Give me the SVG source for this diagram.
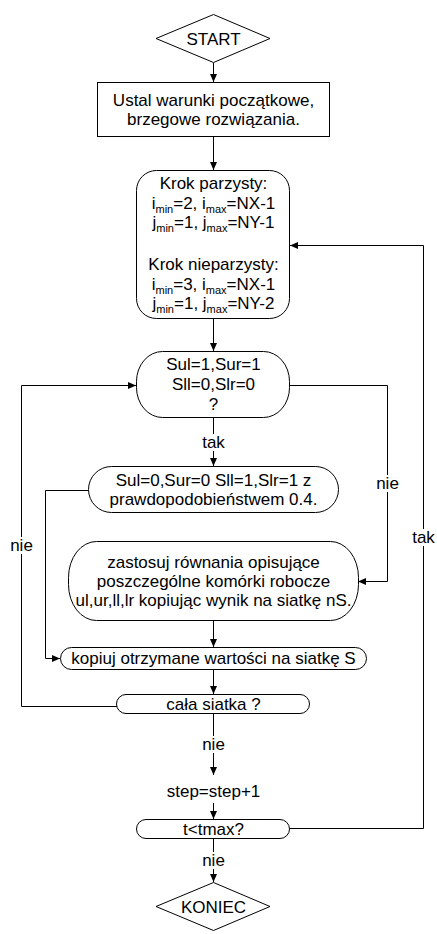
<svg xmlns="http://www.w3.org/2000/svg" width="437" height="934" viewBox="0 0 437 934">
<defs>
<style>
.shape{fill:#fff;stroke:#000;stroke-width:1}
.t{font-family:"Liberation Sans",Arial,sans-serif;font-size:17px;fill:#000;text-anchor:middle}
.sub{font-size:11px}
.line{fill:none;stroke:#000;stroke-width:1}
.lbg{fill:#fff;stroke:none}
</style>
<marker id="arr" markerWidth="9" markerHeight="8" refX="8" refY="3.5" orient="auto" markerUnits="userSpaceOnUse">
<path d="M0,0 L8,3.5 L0,7 Z" fill="#000"/>
</marker>
</defs>
<rect width="437" height="934" fill="#fff"/>

<g id="connectors">
<path class="line" d="M213.5,63 V82" marker-end="url(#arr)"/>
<path class="line" d="M213.5,137 V170" marker-end="url(#arr)"/>
<path class="line" d="M213.5,319 V351" marker-end="url(#arr)"/>
<path class="line" d="M213.5,418 V466" marker-end="url(#arr)"/>
<path class="line" d="M289,385.5 H387.5 V581.5 H358" marker-end="url(#arr)"/>
<path class="line" d="M88,490.5 H45.5 V658.5 H60" marker-end="url(#arr)"/>
<path class="line" d="M213.5,620 V647" marker-end="url(#arr)"/>
<path class="line" d="M213.5,670 V694" marker-end="url(#arr)"/>
<path class="line" d="M117,706.5 H21.5 V385.5 H136" marker-end="url(#arr)"/>
<path class="line" d="M213.5,713 V775" marker-end="url(#arr)"/>
<path class="line" d="M213.5,803 V819" marker-end="url(#arr)"/>
<path class="line" d="M213.5,838 V882" marker-end="url(#arr)"/>
<path class="line" d="M290,828.5 H423.5 V245.5 H290" marker-end="url(#arr)"/>
<rect class="lbg" x="199" y="434" width="29" height="17"/>
<text class="t" x="213.5" y="448">tak</text>
<rect class="lbg" x="374" y="475" width="27" height="17"/>
<text class="t" x="387.5" y="489">nie</text>
<rect class="lbg" x="8" y="537" width="27" height="17"/>
<text class="t" x="21.5" y="551">nie</text>
<rect class="lbg" x="409" y="529" width="29" height="17"/>
<text class="t" x="423.5" y="543">tak</text>
<rect class="lbg" x="200" y="736" width="27" height="17"/>
<text class="t" x="213.5" y="750">nie</text>
<rect class="lbg" x="200" y="852" width="27" height="17"/>
<text class="t" x="213.5" y="866">nie</text>
</g>

<g id="start">
<polygon class="shape" points="213.5,14.5 270,38.5 213.5,62.5 156,38.5"/>
<text class="t" x="213.5" y="44.5">START</text>
</g>

<g id="init">
<rect class="shape" x="97.5" y="82.5" width="232" height="54"/>
<text class="t" x="213.5" y="106">Ustal warunki początkowe,</text>
<text class="t" x="213.5" y="125">brzegowe rozwiązania.</text>
</g>

<g id="krok">
<rect class="shape" x="136.5" y="170.5" width="153" height="148" rx="20" ry="20"/>
<text class="t" x="213.5" y="189">Krok parzysty:</text>
<text class="t" x="213.5" y="209">i<tspan class="sub" dy="4">min</tspan><tspan dy="-4">=2, i</tspan><tspan class="sub" dy="4">max</tspan><tspan dy="-4">=NX-1</tspan></text>
<text class="t" x="213.5" y="228">j<tspan class="sub" dy="4">min</tspan><tspan dy="-4">=1, j</tspan><tspan class="sub" dy="4">max</tspan><tspan dy="-4">=NY-1</tspan></text>
<text class="t" x="213.5" y="270">Krok nieparzysty:</text>
<text class="t" x="213.5" y="290">i<tspan class="sub" dy="4">min</tspan><tspan dy="-4">=3, i</tspan><tspan class="sub" dy="4">max</tspan><tspan dy="-4">=NX-1</tspan></text>
<text class="t" x="213.5" y="309">j<tspan class="sub" dy="4">min</tspan><tspan dy="-4">=1, j</tspan><tspan class="sub" dy="4">max</tspan><tspan dy="-4">=NY-2</tspan></text>
</g>

<g id="cond1">
<rect class="shape" x="136.5" y="351.5" width="153" height="66" rx="26" ry="30"/>
<text class="t" x="213.5" y="370">Sul=1,Sur=1</text>
<text class="t" x="213.5" y="390">Sll=0,Slr=0</text>
<text class="t" x="213.5" y="410">?</text>
</g>

<g id="set">
<rect class="shape" x="88.5" y="466.5" width="250" height="46" rx="23" ry="23"/>
<text class="t" x="213.5" y="486">Sul=0,Sur=0 Sll=1,Slr=1 z</text>
<text class="t" x="213.5" y="505">prawdopodobieństwem 0.4.</text>
</g>

<g id="apply">
<rect class="shape" x="68.5" y="541.5" width="290" height="79" rx="28" ry="36"/>
<text class="t" x="213.5" y="568">zastosuj równania opisujące</text>
<text class="t" x="213.5" y="587">poszczególne komórki robocze</text>
<text class="t" x="213.5" y="606">ul,ur,ll,lr kopiując wynik na siatkę nS.</text>
</g>

<g id="copy">
<rect class="shape" x="60.5" y="647.5" width="306" height="22" rx="11" ry="11"/>
<text class="t" x="213.5" y="664">kopiuj otrzymane wartości na siatkę S</text>
</g>

<g id="whole">
<rect class="shape" x="116.5" y="694.5" width="193" height="19" rx="9.5" ry="9.5"/>
<text class="t" x="213.5" y="709.5">cała siatka ?</text>
</g>

<g id="step">
<text class="t" x="213.5" y="797">step=step+1</text>
</g>

<g id="tcheck">
<rect class="shape" x="136.5" y="819.5" width="153" height="19" rx="9.5" ry="9.5"/>
<text class="t" x="213.5" y="834.5">t&lt;tmax?</text>
</g>

<g id="end">
<polygon class="shape" points="213.5,882.5 270,906.5 213.5,930.5 156,906.5"/>
<text class="t" x="213.5" y="912.5">KONIEC</text>
</g>
</svg>
